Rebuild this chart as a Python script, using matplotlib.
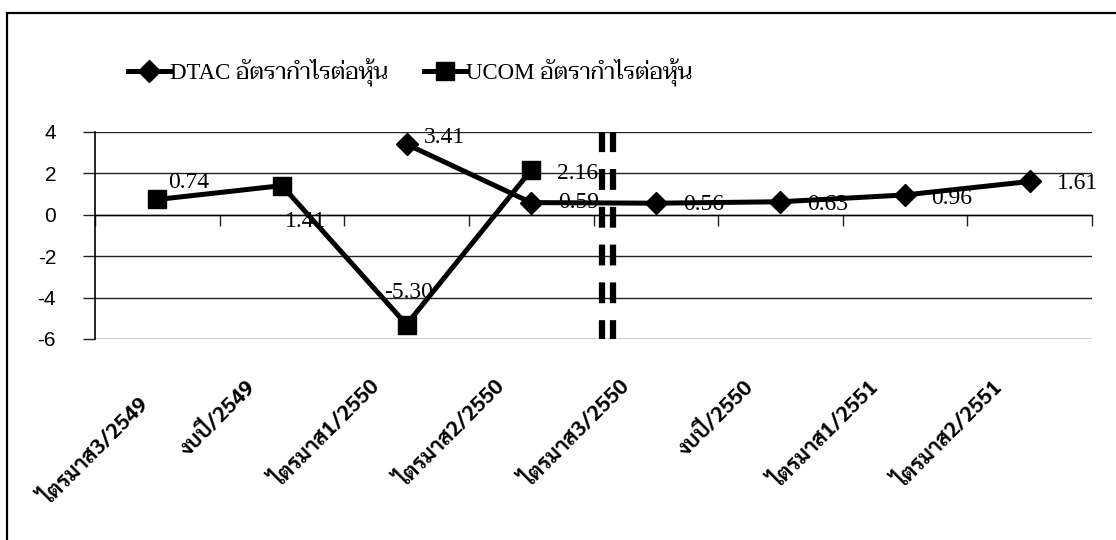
import numpy as np
import matplotlib
matplotlib.use("Agg")
import matplotlib.pyplot as plt
from matplotlib.patches import Rectangle

# quarterly earnings per share, DTAC vs UCOM
periods = ["ไตรมาส3/2549", "งบปี/2549", "ไตรมาส1/2550", "ไตรมาส2/2550",
           "ไตรมาส3/2550", "งบปี/2550", "ไตรมาส1/2551", "ไตรมาส2/2551"]
dtac_eps = [np.nan, np.nan, 3.41, 0.59, 0.56, 0.63, 0.96, 1.61]
ucom_eps = [0.74, 1.41, -5.30, 2.16, np.nan, np.nan, np.nan, np.nan]
dtac_name = "DTAC อัตรากำไรต่อหุ้น"
ucom_name = "UCOM อัตรากำไรต่อหุ้น"
y_ticks = [-6, -4, -2, 0, 2, 4]

# label offsets in pixels (right, down) from each point
dtac_lbl_off = [None, None, (38, -7), (47, 0), (48, 1), (47, 3), (47, 4), (48, 2)]
ucom_lbl_off = [(31, -17), (24, 36), (2, -32), (46, 3), None, None, None, None]

thai_sans = ["Sarabun", "DejaVu Sans"]
thai_serif = ["Liberation Serif", "Taviraj", "DejaVu Serif"]
plt.rcParams['lines.scale_dashes'] = False

DPI = 100
W, H = 1116, 540
fig = plt.figure(figsize=(W / DPI, H / DPI), dpi=DPI)
ax = fig.add_axes([95 / W, 1 - 339 / H, (1092 - 95) / W, (339 - 132) / H])

x = np.arange(len(periods))
ax.plot(x, dtac_eps, color="black", lw=3.6, marker="D", ms=11, zorder=4)
ax.plot(x, ucom_eps, color="black", lw=3.6, marker="s", ms=13, zorder=4)

ax.set_xlim(-0.5, len(periods) - 0.5)
ax.set_ylim(-6, 4)
ax.set_yticks(y_ticks)
ax.set_yticklabels([str(v) for v in y_ticks], family="Liberation Sans", fontsize=15)
ax.yaxis.grid(True, color="#222222", lw=1.0)
ax.set_axisbelow(True)
ax.tick_params(axis="y", direction="out", length=9, width=1, pad=19, color="#222222")

for s in ["top", "right"]:
    ax.spines[s].set_visible(False)
ax.spines["left"].set_linewidth(1.2)
ax.spines["bottom"].set_position(("data", 0))
ax.spines["bottom"].set_linewidth(1.0)
ax.set_xticks(np.arange(len(periods) + 1) - 0.5)
ax.set_xticklabels([])
ax.tick_params(axis="x", direction="out", length=8, width=1, color="#222222")

px = 72 / DPI
for vals, offs in [(dtac_eps, dtac_lbl_off), (ucom_eps, ucom_lbl_off)]:
    for i, (v, o) in enumerate(zip(vals, offs)):
        if o is None or np.isnan(v):
            continue
        ax.annotate(f"{v:.2f}", xy=(i, v), xytext=(o[0] * px, -o[1] * px),
                    textcoords="offset points", ha="center", va="center",
                    family="Liberation Serif", fontsize=17, zorder=5)

# category names under the plot, slanted; the first one is pushed
# along its slant so it stays clear of the left edge
for i, name in enumerate(periods):
    dx, dy = (-30, -45) if i > 0 else (-12, -63)
    ax.annotate(name, xy=(i, 0), xycoords=("data", "axes fraction"),
                xytext=(dx * px, dy * px), textcoords="offset points",
                rotation=45, rotation_mode="anchor", ha="right", va="center",
                family=thai_sans, fontsize=15.5, fontweight="bold")

# axis break marker between the two periods
for bx in [3.565, 3.653]:
    ax.plot([bx, bx], [-6.1, 4.0], color="black", lw=4.5,
            linestyle=(0, (15, 12.2)), solid_capstyle="butt", zorder=3)

# legend
h1, = ax.plot([], [], color="black", lw=3.6, marker="D", ms=11)
h2, = ax.plot([], [], color="black", lw=3.6, marker="s", ms=13)
fig.legend([h1, h2], [dtac_name, ucom_name], loc="center",
           bbox_to_anchor=(410 / W, 1 - 72 / H), ncol=2, frameon=False,
           handlelength=1.83, handletextpad=0.0, columnspacing=1.6,
           prop={"family": thai_serif, "size": 16.5})

# chart border (only left and top edges fall inside the image)
fig.patches.append(Rectangle((7 / W, -0.1), 1.2, 1 - 13 / H + 0.1,
                             transform=fig.transFigure, fill=False,
                             edgecolor="black", lw=1.6))

fig.savefig("out.png", dpi=DPI)
